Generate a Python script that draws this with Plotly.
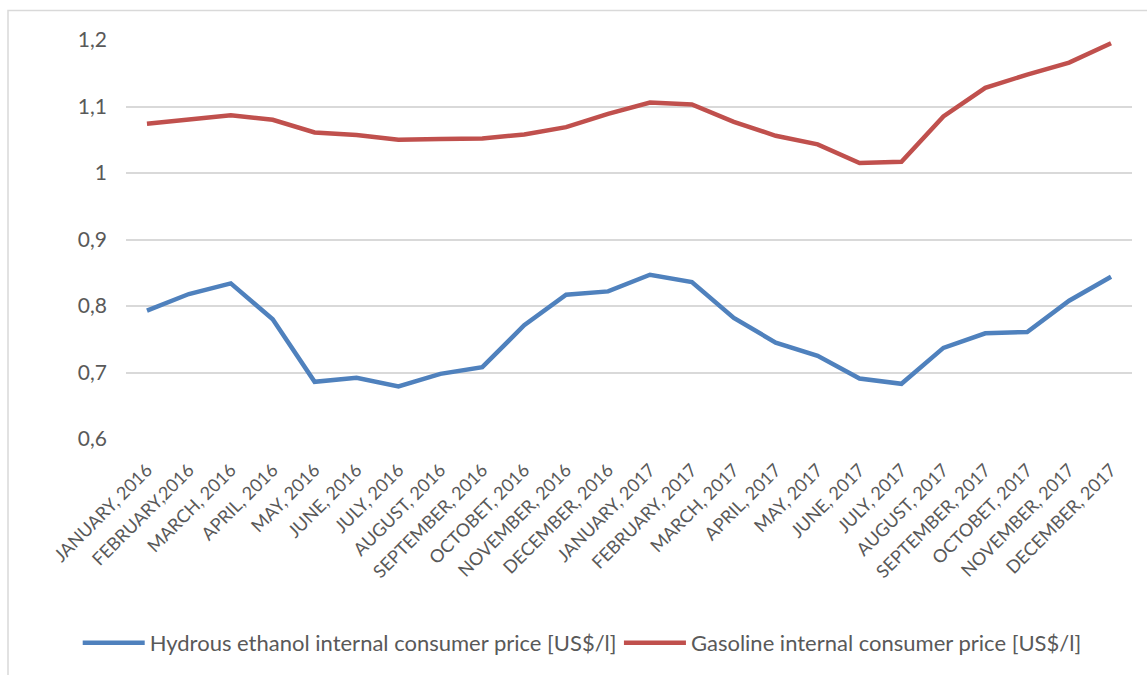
import plotly.graph_objects as go

months = [
    "JANUARY, 2016", "FEBRUARY,2016", "MARCH, 2016", "APRIL, 2016", "MAY, 2016",
    "JUNE, 2016", "JULY, 2016", "AUGUST, 2016", "SEPTEMBER, 2016", "OCTOBET, 2016",
    "NOVEMBER, 2016", "DECEMBER, 2016", "JANUARY, 2017", "FEBRUARY, 2017",
    "MARCH, 2017", "APRIL, 2017", "MAY, 2017", "JUNE, 2017", "JULY, 2017",
    "AUGUST, 2017", "SEPTEMBER, 2017", "OCTOBET, 2017", "NOVEMBER, 2017",
    "DECEMBER, 2017",
]

ethanol_price = [
    0.793, 0.818, 0.834, 0.780, 0.686, 0.692, 0.679, 0.698, 0.708, 0.771,
    0.817, 0.822, 0.847, 0.836, 0.782, 0.745, 0.725, 0.691, 0.683, 0.737,
    0.759, 0.761, 0.808, 0.844,
]

gasoline_price = [
    1.074, 1.080, 1.087, 1.080, 1.061, 1.057, 1.050, 1.051, 1.052, 1.058,
    1.069, 1.089, 1.106, 1.103, 1.077, 1.056, 1.043, 1.015, 1.017, 1.085,
    1.128, 1.148, 1.166, 1.195,
]

series_names = [
    "Hydrous ethanol internal consumer price [US$/l]",
    "Gasoline internal consumer price [US$/l]",
]

y_ticks = [0.6, 0.7, 0.8, 0.9, 1.0, 1.1, 1.2]

text_color = "#595959"
grid_color = "#d9d9d9"
font_family = "Lato, 'Noto Sans', sans-serif"

fig = go.Figure()
fig.add_trace(go.Scatter(
    x=months, y=ethanol_price, mode="lines", name=series_names[0],
    line=dict(color="#4f81bd", width=4.5, shape="linear"),
    legend="legend",
))
fig.add_trace(go.Scatter(
    x=months, y=gasoline_price, mode="lines", name=series_names[1],
    line=dict(color="#c0504d", width=4.5, shape="linear"),
    legend="legend2",
))

# chart-area frame (top and left edges visible)
fig.add_shape(
    type="rect", xref="paper", yref="paper",
    x0=-0.1173, x1=1.03, y0=-0.65, y1=1.0739,
    line=dict(color=grid_color, width=1.5), fillcolor="rgba(0,0,0,0)",
    layer="below",
)

legend_style = dict(
    orientation="h", yanchor="middle", y=-0.511, xanchor="left",
    font=dict(size=22, color=text_color), itemwidth=62,
    bgcolor="rgba(0,0,0,0)", borderwidth=0,
)

fig.update_layout(
    width=1147, height=675,
    margin=dict(l=126, r=15, t=40, b=236, autoexpand=False),
    paper_bgcolor="white", plot_bgcolor="white",
    separators=", ",
    font=dict(family=font_family, color=text_color),
    showlegend=True,
    legend=dict(legend_style, x=-0.048),
    legend2=dict(legend_style, x=0.49),
    xaxis=dict(
        type="category", range=[-0.5, len(months) - 0.5],
        tickangle=-45, tickfont=dict(size=18, color=text_color),
        showgrid=False, showline=False, zeroline=False, ticks="",
        ticklabelstandoff=16, automargin=False,
    ),
    yaxis=dict(
        range=[0.6, 1.2], tickvals=y_ticks,
        tickfont=dict(size=21, color=text_color),
        showgrid=True, gridcolor=grid_color, gridwidth=1.5,
        zeroline=False, showline=False, ticks="", ticklabelstandoff=18,
        automargin=False,
    ),
)

fig.write_html("out.html")
